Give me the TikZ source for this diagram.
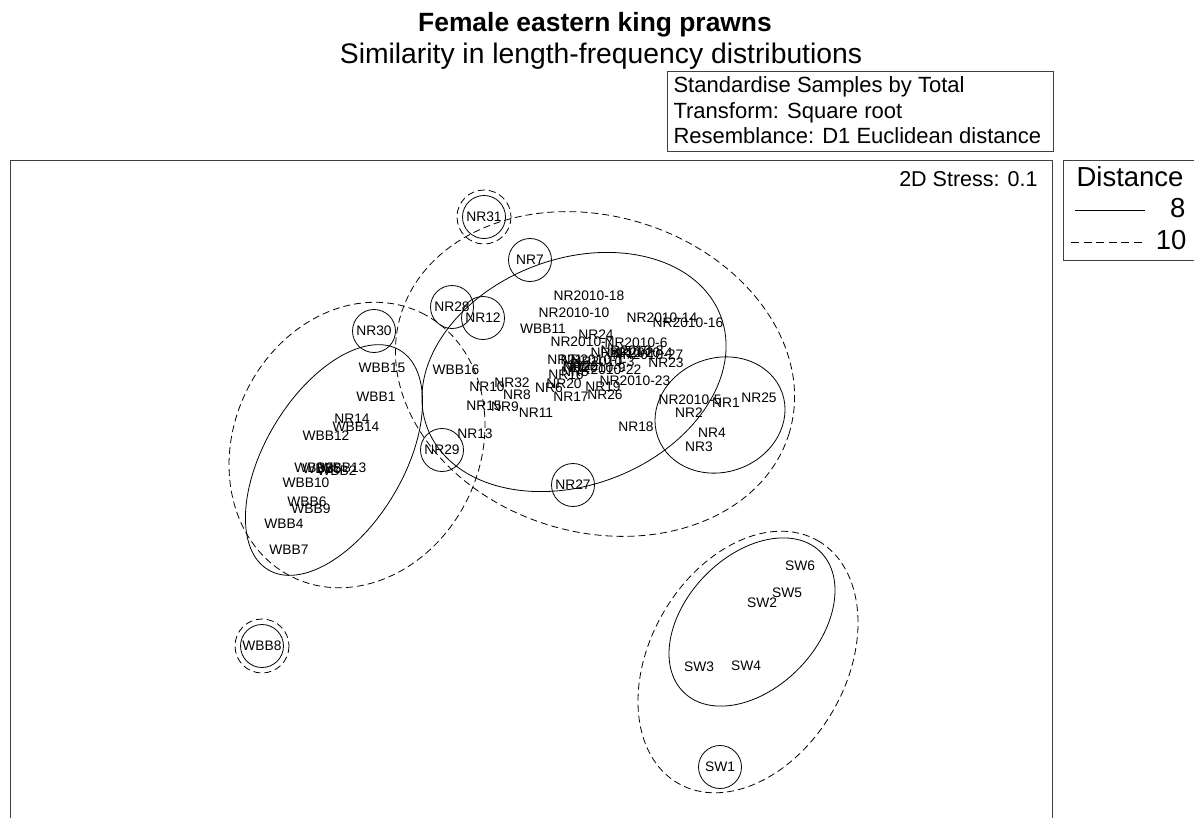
\documentclass[tikz,border=0pt]{standalone}
\usepackage{fontspec}
\setmainfont{Liberation Sans}

\begin{document}
\begin{tikzpicture}[x=1pt,y=-1pt,
    lbl/.style={font=\fontsize{13.8}{14}\selectfont,inner sep=0pt,text height=9.9pt,text depth=0pt},
    ring/.style={draw,circle,line width=0.8pt,minimum size=43pt},
    grp/.style={line width=0.8pt},
    grpd/.style={line width=0.8pt,dash pattern=on 7pt off 4pt},
    frm/.style={line width=1pt,draw=black!75}]
  \useasboundingbox (0,0) rectangle (1194,817);

  % titles and the info box
  \node[anchor=base,font=\fontsize{26.4}{28}\selectfont\bfseries] (title) at (595,31) {Female eastern king prawns};
  \node[anchor=base,font=\fontsize{28.3}{30}\selectfont] (subtitle) at (601,63) {Similarity in length-frequency distributions};
  \draw[frm] (667,71) rectangle (1053,151);
  \draw
    (670,92) node[anchor=base west,font=\fontsize{22}{23}\selectfont] (std){Standardise Samples by Total}
    (670,118) node[anchor=base west,font=\fontsize{22}{23}\selectfont] (trf){Transform: Square root}
    (670,143) node[anchor=base west,font=\fontsize{22}{23}\selectfont] (res){Resemblance: D1 Euclidean distance};

  % plot frame and legend
  \draw[frm] (10,822) -- (10,160) -- (1052,160) -- (1052,822);
  \node[anchor=base east,font=\fontsize{21.5}{23}\selectfont] (stress) at (1041,186) {2D Stress: 0.1};
  \draw[frm] (1063,260) -- (1063,160) -- (1200,160);
  \draw[frm] (1063,260) -- (1200,260);
  \node[anchor=base west,font=\fontsize{27.5}{29}\selectfont] (dist) at (1073,186) {Distance};
  \node[anchor=base east,font=\fontsize{27.5}{29}\selectfont] (d8) at (1189,217) {8};
  \node[anchor=base east,font=\fontsize{27.5}{29}\selectfont] (d10) at (1190,249) {10};
  \draw[line width=0.8pt] (1075,210) -- (1145,210);
  \draw[line width=0.8pt,dash pattern=on 8pt off 4.6pt] (1071,242) -- (1145,242);

  % samples with a group of their own
  \draw
    (484,217) node[lbl,ring] (nr31){NR31}
    (530,260) node[lbl,ring] (nr7){NR7}
    (452,307) node[lbl,ring] (nr28){NR28}
    (483,318) node[lbl,ring] (nr12){NR12}
    (374,331) node[lbl,ring] (nr30){NR30}
    (442,450) node[lbl,ring] (nr29){NR29}
    (573,485) node[lbl,ring] (nr27){NR27}
    (720,767) node[lbl,ring] (sw1){SW1}
    (262,646) node[lbl,ring] (wbb8){WBB8};
  \draw[grpd] (nr31) circle [radius=27];
  \draw[grpd] (wbb8) circle [radius=27];

  % northern rivers samples
  \draw
    (589,296) node[lbl] (n10-18){NR2010-18}
    (574,313) node[lbl] (n10-10){NR2010-10}
    (662,318) node[lbl] (n10-14){NR2010-14}
    (688,323) node[lbl] (n10-16){NR2010-16}
    (596,335) node[lbl] (nr24){NR24}
    (582,342) node[lbl] (n10-7){NR2010-7}
    (636,343) node[lbl] (n10-6){NR2010-6}
    (622,353) node[lbl] (n10-2){NR2010-2}
    (632,351) node[lbl] (n10-8){NR2010-8}
    (641,353) node[lbl] (n10-4){NR2010-4}
    (648,355) node[lbl] (n10-27){NR2010-27}
    (565,360) node[lbl] (nr21){NR21}
    (592,360) node[lbl] (n10-1){NR2010-1}
    (603,362) node[lbl] (n10-3){NR2010-3}
    (666,363) node[lbl] (nr23){NR23}
    (581,366) node[lbl] (nr22){NR22}
    (594,368) node[lbl] (n10-9){NR2010-9}
    (606,370) node[lbl] (n10-22){NR2010-22}
    (575,372) node[lbl] (nr5){NR5}
    (566,375) node[lbl] (nr16){NR16}
    (635,381) node[lbl] (n10-23){NR2010-23}
    (564,384) node[lbl] (nr20){NR20}
    (549,388) node[lbl] (nr6){NR6}
    (603,387) node[lbl] (nr19){NR19}
    (571,397) node[lbl] (nr17){NR17}
    (605,395) node[lbl] (nr26){NR26}
    (487,387) node[lbl] (nr10){NR10}
    (512,383) node[lbl] (nr32){NR32}
    (517,395) node[lbl] (nr8){NR8}
    (484,406) node[lbl] (nr15){NR15}
    (505,407) node[lbl] (nr9){NR9}
    (536,413) node[lbl] (nr11){NR11}
    (475,434) node[lbl] (nr13){NR13}
    (636,427) node[lbl] (nr18){NR18}
    (690,400) node[lbl] (n10-5){NR2010-5}
    (726,403) node[lbl] (nr1){NR1}
    (759,398) node[lbl] (nr25){NR25}
    (689,413) node[lbl] (nr2){NR2}
    (712,433) node[lbl] (nr4){NR4}
    (699,447) node[lbl] (nr3){NR3}
    (352,419) node[lbl] (nr14){NR14};

  % wallis lake samples
  \draw
    (543,329) node[lbl] (wbb11){WBB11}
    (456,370) node[lbl] (wbb16){WBB16}
    (382,368) node[lbl] (wbb15){WBB15}
    (376,397) node[lbl] (wbb1){WBB1}
    (356,427) node[lbl] (wbb14){WBB14}
    (326,436) node[lbl] (wbb12){WBB12}
    (314,468) node[lbl] (wbb3){WBB3}
    (322,469) node[lbl] (wbb5){WBB5}
    (337,471) node[lbl] (wbb2){WBB2}
    (343,468) node[lbl] (wbb13){WBB13}
    (306,483) node[lbl] (wbb10){WBB10}
    (307,502) node[lbl] (wbb6){WBB6}
    (311,509) node[lbl] (wbb9){WBB9}
    (284,524) node[lbl] (wbb4){WBB4}
    (289,550) node[lbl] (wbb7){WBB7};

  % southern waters samples
  \draw
    (800,566) node[lbl] (sw6){SW6}
    (787,593) node[lbl] (sw5){SW5}
    (762,603) node[lbl] (sw2){SW2}
    (699,667) node[lbl] (sw3){SW3}
    (746,666) node[lbl] (sw4){SW4};

  % groups at distance 8 (solid) and 10 (dashed)
  \draw[grp,rotate around={21:(574,372)}] (574,372) ellipse [x radius=157,y radius=113];
  \draw[grpd,rotate around={-17:(595,374)}] (595,374) ellipse [x radius=203,y radius=158];
  \draw[grp,rotate around={20:(720,415)}] (720,415) ellipse [x radius=66,y radius=57];
  \draw[grp,rotate around={59:(334,460)}] (334,460) ellipse [x radius=128,y radius=69];
  \draw[grpd,rotate around={64:(357,445)}] (357,445) ellipse [x radius=147,y radius=123];
  \draw[grp,rotate around={46:(752,622)}] (752,622) ellipse [x radius=98,y radius=66];
  \draw[grpd,rotate around={60:(748,662)}] (748,662) ellipse [x radius=140,y radius=98];
\end{tikzpicture}
\end{document}
